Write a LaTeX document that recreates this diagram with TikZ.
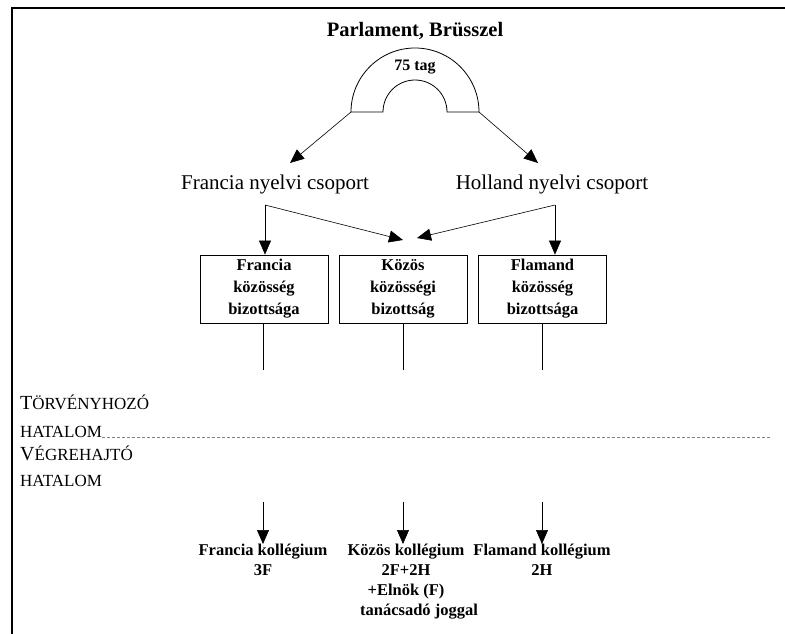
\documentclass[tikz,border=0pt]{standalone}
\usepackage{fontspec}
\setmainfont{Liberation Serif}
\usetikzlibrary{arrows.meta}
\newcommand{\fakesc}[2]{{\fontsize{20}{20}\selectfont #1}{\fontsize{17}{20}\selectfont #2}}
\begin{document}
\begin{tikzpicture}[x=1pt,y=-1pt,
  frame/.style={line width=1.3pt},
  conn/.style={line width=0.6pt,-{Triangle[length=14pt,width=12pt]}},
  plain/.style={line width=0.6pt},
  titletext/.style={font=\fontsize{20.5}{24}\selectfont\bfseries, inner sep=0pt},
  grouptext/.style={font=\fontsize{21}{24}\selectfont, inner sep=0pt},
  boxnode/.style={draw, line width=0.8pt, minimum width=128pt, minimum height=68pt, align=center, inner sep=0pt,
    font=\fontsize{16.5}{22}\selectfont\bfseries},
  colltext/.style={align=center, inner sep=0pt, font=\fontsize{16.5}{20}\selectfont\bfseries},
  sidetext/.style={anchor=base west, inner sep=0pt}
]
\useasboundingbox (0,0) rectangle (785,634);
% frame
\draw[frame] (12,634) -- (12,8) -- (785,8);

% title and arch
\node[titletext] (title) at (415,31) {Parlament, Brüsszel};
\draw[line width=0.8pt] (351,112) arc[start angle=180,end angle=360,radius=64] -- (447,112)
  arc[start angle=360,end angle=180,radius=32] -- cycle;
\node[font=\fontsize{16}{18}\selectfont\bfseries, inner sep=0pt] (tag) at (415,67) {75 tag};
\coordinate (al) at (351,112);
\coordinate (ar) at (479,112);

% language groups
\node[grouptext] (fr) at (275,184) {Francia nyelvi csoport};
\node[grouptext] (ho) at (552,184) {Holland nyelvi csoport};
\coordinate (frtip) at (290,163);
\coordinate (hotip) at (538,163);
\draw[conn] (al) -- (frtip);
\draw[conn] (ar) -- (hotip);

% boxes
\node[boxnode] (b1) at (264,289) {Francia\\közösség\\bizottsága};
\node[boxnode] (b2) at (403,289) {Közös\\közösségi\\bizottság};
\node[boxnode] (b3) at (542.5,289) {Flamand\\közösség\\bizottsága};

\coordinate (fs) at (265,205);
\coordinate (hs) at (555,205);
\coordinate (cl) at (403,240);
\coordinate (cr) at (417,238);
\draw[conn] (fs) -- (fs |- b1.north);
\draw[conn] (fs) -- (cl);
\draw[conn] (hs) -- (hs |- b3.north);
\draw[conn] (hs) -- (cr);

% lines below boxes
\coordinate (e1) at (263,370);
\coordinate (e2) at (403,370);
\coordinate (e3) at (542,370);
\draw[plain] (e1 |- b1.south) -- (e1);
\draw[plain] (e2 |- b2.south) -- (e2);
\draw[plain] (e3 |- b3.south) -- (e3);

% side labels
\node[sidetext] (l1) at (20,409) {\fakesc{T}{ÖRVÉNYHOZÓ}};
\node[sidetext] (l2) at (20,437) {\fakesc{}{HATALOM}};
\node[sidetext] (l3) at (20,460) {\fakesc{V}{ÉGREHAJTÓ}};
\node[sidetext] (l4) at (20,486) {\fakesc{}{HATALOM}};
\coordinate (dashend) at (772,437);
\draw[gray, line width=0.8pt, dash pattern=on 3pt off 2pt] (l2.base east) -- (dashend);

% colleges
\node[colltext, anchor=north] (k1) at (263,544) {Francia kollégium\\3F};
\node[colltext, anchor=north] (k2) at (406,544) {Közös kollégium\\2F+2H\\+Elnök (F)\\\hspace*{26pt}tanácsadó joggal};
\node[colltext, anchor=north] (k3) at (542,544) {Flamand kollégium\\2H};
\coordinate (s1) at (263,502);
\coordinate (s2) at (403,502);
\coordinate (s3) at (542,502);
\draw[conn] (s1) -- (s1 |- k1.north);
\draw[conn] (s2) -- (s2 |- k2.north);
\draw[conn] (s3) -- (s3 |- k3.north);
\end{tikzpicture}
\end{document}
